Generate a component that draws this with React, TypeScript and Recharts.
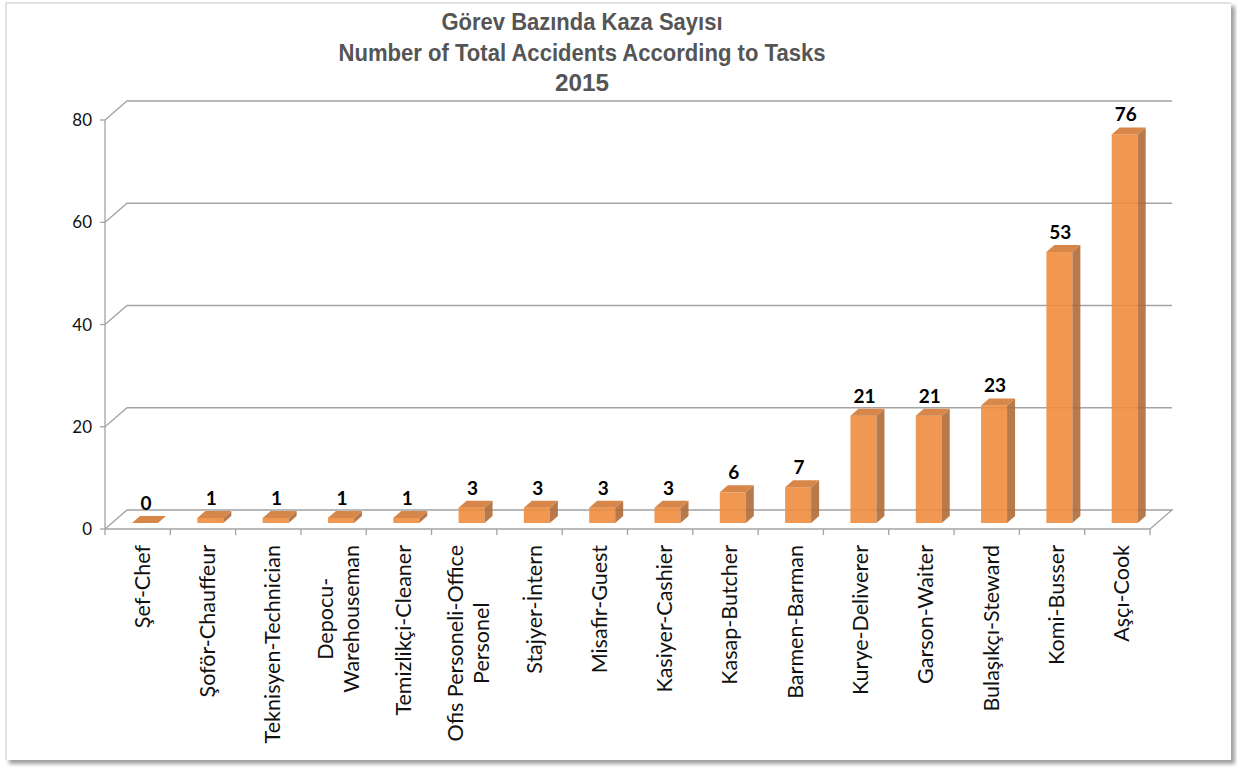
import React from "react";
import { BarChart, Bar, XAxis, YAxis, CartesianGrid, LabelList } from "recharts";

const tasks = [
  "Şef-Chef",
  "Şoför-Chauffeur",
  "Teknisyen-Technician",
  "Depocu-\nWarehouseman",
  "Temizlikçi-Cleaner",
  "Ofis Personeli-Office\nPersonel",
  "Stajyer-İntern",
  "Misafir-Guest",
  "Kasiyer-Cashier",
  "Kasap-Butcher",
  "Barmen-Barman",
  "Kurye-Deliverer",
  "Garson-Waiter",
  "Bulaşıkçı-Steward",
  "Komi-Busser",
  "Aşçı-Cook",
];
const accidents = [0, 1, 1, 1, 1, 3, 3, 3, 3, 6, 7, 21, 21, 23, 53, 76];
const yTicks = [0, 20, 40, 60, 80];
const titleLines = [
  "Görev Bazında Kaza Sayısı",
  "Number of Total Accidents According to Tasks",
  "2015",
];

const data = tasks.map((task, i) => ({ task, value: accidents[i] }));

// 3d look: wall depth and bar offsets
const WALL_DX = 22;
const WALL_DY = 19;
const BAR_DX = 7;
const BAR_DY = 6;
const SIDE_DX = 8;
const SIDE_DY = 7;

const LABEL_FONT = "Lato, 'Noto Sans', sans-serif";
const LABEL_SIZE = 21.5;
const GRID = "#a3a3a3";

let ctx: CanvasRenderingContext2D | null = null;
function textWidth(s: string) {
  if (!ctx) ctx = document.createElement("canvas").getContext("2d");
  if (!ctx) return s.length * 10;
  ctx.font = `${LABEL_SIZE}px Lato`;
  return ctx.measureText(s).width;
}

const gridLine = (p: any) => {
  const { x1, y1, x2 } = p;
  const floor = Math.abs(y1 - (p.y + p.height)) < 1;
  let d = `M${x1},${y1} L${x1 + WALL_DX},${y1 - WALL_DY} L${x2 + WALL_DX},${y1 - WALL_DY}`;
  if (floor) d += ` L${x2},${y1}`;
  return <path key={`g-${p.index}-${y1}`} d={d} stroke={GRID} strokeWidth={1.3} fill="none" />;
};

const Bar3D = (p: any) => {
  const { x, y, width, height } = p;
  const fx = x + BAR_DX;
  const fy = y - BAR_DY;
  const h = Math.max(height, 0);
  return (
    <g fillOpacity={0.9}>
      <rect x={fx} y={fy} width={width} height={h} fill="#ee8d3e" />
      <path
        d={`M${fx + width},${fy} L${fx + width + SIDE_DX},${fy - SIDE_DY} L${fx + width + SIDE_DX},${fy + h - SIDE_DY} L${fx + width},${fy + h} Z`}
        fill="#b06b37"
      />
      <path
        d={`M${fx},${fy} L${fx + width},${fy} L${fx + width + SIDE_DX},${fy - SIDE_DY} L${fx + SIDE_DX},${fy - SIDE_DY} Z`}
        fill="#d27a35"
      />
    </g>
  );
};

const ValueLabel = (p: any) => {
  const { x, y, width, value } = p;
  return (
    <text
      x={x + width / 2 + BAR_DX + 1}
      y={y - BAR_DY - 13}
      textAnchor="middle"
      fontFamily={LABEL_FONT}
      fontWeight="bold"
      fontSize={19}
      fill="#000"
    >
      {value}
    </text>
  );
};

const CategoryTick = (p: any) => {
  const { x, y, payload, index } = p;
  const half = payload.offset || 32.6;
  const lines = String(payload.value).split("\n");
  const maxW = Math.max(...lines.map(textWidth));
  const lh = 26;
  return (
    <g>
      <line x1={x - half} y1={y} x2={x - half} y2={y + 6} stroke={GRID} strokeWidth={1.3} />
      {index === tasks.length - 1 && (
        <line x1={x + half} y1={y} x2={x + half} y2={y + 6} stroke={GRID} strokeWidth={1.3} />
      )}
      <g transform={`translate(${x + 4},${y + 16}) rotate(-90)`}>
        {lines.map((line, i) => (
          <text
            key={i}
            x={-maxW / 2}
            y={(i - (lines.length - 1) / 2) * lh}
            textAnchor="middle"
            dominantBaseline="central"
            fontFamily={LABEL_FONT}
            fontSize={LABEL_SIZE}
            fill="#111"
          >
            {line}
          </text>
        ))}
      </g>
    </g>
  );
};

export default function App() {
  const titleWidths = [281, 487, 54];
  return (
    <div style={{ position: "absolute", left: 0, top: 0, width: 1237, height: 767, background: "#fff" }}>
      <div
        style={{
          position: "absolute",
          left: 5,
          top: 2,
          width: 1224,
          height: 756,
          borderLeft: "2px solid #e2e2e2",
          borderTop: "2px solid #e2e2e2",
          boxShadow: "4px 4px 4px rgba(0,0,0,0.38)",
          background: "#fff",
        }}
      />
      <svg width={1237} height={110} style={{ position: "absolute", left: 0, top: 0 }}>
        {titleLines.map((t, i) => (
          <text
            key={i}
            x={582}
            y={30 + i * 30.5}
            textAnchor="middle"
            fontFamily="'Liberation Sans Narrow', 'Liberation Sans', Arial, sans-serif"
            fontWeight="bold"
            fontSize={23}
            fill="#555"
            textLength={titleWidths[i]}
            lengthAdjust="spacingAndGlyphs"
          >
            {t}
          </text>
        ))}
      </svg>
      <div style={{ position: "absolute", left: 0, top: 0 }}>
        <BarChart
          width={1237}
          height={767}
          data={data}
          margin={{ top: 120, right: 87, bottom: 8, left: 45 }}
          barSize={26}
        >
          <CartesianGrid horizontal={gridLine} vertical={false} />
          <XAxis
            dataKey="task"
            interval={0}
            height={230}
            tickSize={0}
            tickMargin={0}
            tickLine={false}
            axisLine={{ stroke: GRID, strokeWidth: 1.3 }}
            tick={<CategoryTick />}
          />
          <YAxis
            domain={[0, 80]}
            ticks={yTicks}
            width={60}
            tickSize={5}
            tickMargin={8}
            axisLine={{ stroke: GRID, strokeWidth: 1.3 }}
            tickLine={{ stroke: GRID, strokeWidth: 1.3 }}
            tick={{ fontFamily: LABEL_FONT, fontSize: 17, fill: "#111" }}
          />
          <Bar dataKey="value" shape={<Bar3D />} isAnimationActive={false}>
            <LabelList dataKey="value" content={<ValueLabel />} />
          </Bar>
        </BarChart>
      </div>
    </div>
  );
}
